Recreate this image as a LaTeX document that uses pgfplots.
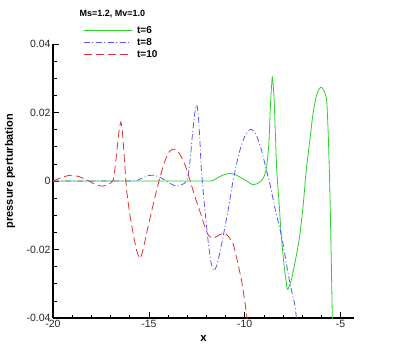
\documentclass[border=0pt]{standalone}
\usepackage{fontspec}
\setmainfont{Liberation Sans}
\usepackage{pgfplots}
\pgfplotsset{compat=1.18}
\pgfplotsset{legend image code/.code={\draw[#1] (0pt,0pt) -- (48pt,0pt);}}

\definecolor{cgreen}{RGB}{40,210,40}
\definecolor{cblue}{RGB}{85,85,255}
\definecolor{cred}{RGB}{220,50,50}

\begin{document}
\begin{tikzpicture}
\useasboundingbox (-53pt,-40pt) rectangle (350pt,318pt);
\begin{axis}[
    at={(0,0)}, anchor=south west,
    scale only axis,
    width=301pt, height=274pt,
    xmin=-20, xmax=-4.3,
    ymin=-0.04, ymax=0.04,
    axis x line=bottom, axis y line=left,
    axis line style={-, line width=1.1pt},
    tick align=inside,
    major tick length=6pt, minor tick length=3.5pt,
    every tick/.style={black, line width=0.7pt},
    xtick={-20,-15,-10,-5},
    xticklabels={-20,-15,-10,-5},
    minor x tick num=4,
    ytick={-0.04,-0.02,0,0.02,0.04},
    yticklabels={-0.04,-0.02,0,0.02,0.04},
    minor y tick num=3,
    scaled y ticks=false,
    tick label style={font=\fontsize{10.5}{12}\selectfont, text=black!85},
    xticklabel style={yshift=1pt},
    yticklabel style={xshift=1pt},
    xlabel={\bfseries x},
    ylabel={\bfseries pressure perturbation},
    xlabel style={at={(rel axis cs:0.5,-0.073)}, anchor=center, font=\fontsize{11.5}{13}\selectfont},
    ylabel style={at={(rel axis cs:-0.143,0.536)}, anchor=center, font=\fontsize{11}{13}\selectfont},
    clip mode=individual,
    legend style={at={(rel axis cs:0.09,1.079)}, anchor=north west, draw=none, fill=none,
        font=\bfseries\fontsize{10}{12}\selectfont, row sep=-0.5pt, column sep=3pt},
    legend cell align=left,
]
\addplot[cgreen, line width=0.8pt, smooth, tension=0.4] coordinates {
    (-20,0) (-16,0) (-12,0) (-11.75,0) (-11.6,0.0003) (-11.4,0.0010) (-11.1,0.0018)
    (-10.8,0.0022) (-10.5,0.0019) (-10.2,0.0010) (-9.9,0.0000) (-9.6,-0.0010)
    (-9.35,-0.0008) (-9.15,0.0000) (-9.0,0.0012) (-8.88,0.0035) (-8.8,0.0070)
    (-8.73,0.0120) (-8.66,0.0220) (-8.56,0.0303) (-8.47,0.0240) (-8.39,0.0120)
    (-8.33,0.0032) (-8.2,-0.0070) (-8.09,-0.0163) (-7.92,-0.0260) (-7.8,-0.0309)
    (-7.75,-0.0316) (-7.57,-0.0289) (-7.35,-0.0230) (-7.14,-0.0163) (-6.95,-0.0070)
    (-6.79,0.0032) (-6.6,0.0120) (-6.46,0.0187) (-6.3,0.0240) (-6.15,0.0266)
    (-6.01,0.0274) (-5.87,0.0264) (-5.73,0.0237) (-5.66,0.0160) (-5.6,0.0060)
    (-5.55,-0.0050) (-5.49,-0.0220) (-5.43,-0.0400) (-5.4,-0.0480)
};
\addlegendentry{t=6}
\addplot[cblue, line width=0.8pt, smooth, tension=0.4,
    dash pattern=on 6pt off 2.5pt on 1pt off 2.5pt] coordinates {
    (-20,0) (-16,0) (-15.6,0.0002) (-15.3,0.0010) (-15.0,0.0016) (-14.8,0.0017)
    (-14.5,0.0013) (-14.2,0.0004) (-13.9,-0.0007) (-13.55,-0.0015) (-13.25,-0.0010)
    (-13.0,0.0003) (-12.85,0.0060) (-12.72,0.0140) (-12.6,0.0200) (-12.5,0.0222)
    (-12.42,0.0190) (-12.34,0.0120) (-12.26,0.0032) (-12.1,-0.0070) (-11.9,-0.0180)
    (-11.75,-0.0240) (-11.6,-0.0262) (-11.45,-0.0245) (-11.3,-0.0210) (-11.13,-0.0163)
    (-10.85,-0.0080) (-10.6,0.0003) (-10.3,0.0080) (-10.0,0.0130) (-9.7,0.0151)
    (-9.4,0.0135) (-9.1,0.0085) (-8.87,0.0032) (-8.7,-0.0005) (-8.4,-0.0085)
    (-8.07,-0.0163) (-7.8,-0.0250) (-7.6,-0.0310) (-7.4,-0.0358) (-7.31,-0.0396)
    (-7.25,-0.0430)
};
\addlegendentry{t=8}
\addplot[cred, line width=0.8pt, smooth, tension=0.4,
    dash pattern=on 8pt off 4pt] coordinates {
    (-20,0) (-19.7,0.0007) (-19.35,0.0014) (-19.0,0.0017) (-18.6,0.0012) (-18.2,0.0002)
    (-17.8,-0.0010) (-17.4,-0.0015) (-17.1,-0.0009) (-16.86,0.0003) (-16.72,0.0060)
    (-16.58,0.0135) (-16.46,0.0172) (-16.36,0.0130) (-16.26,0.0050) (-16.16,-0.0026)
    (-16.0,-0.0095) (-15.82,-0.0153) (-15.65,-0.0200) (-15.47,-0.0226) (-15.3,-0.0200)
    (-15.12,-0.0153) (-14.8,-0.0075) (-14.46,0.0003) (-14.15,0.0060) (-13.9,0.0088)
    (-13.65,0.0093) (-13.4,0.0080) (-13.1,0.0045) (-12.86,0.0003) (-12.6,-0.0045)
    (-12.34,-0.0088) (-12.1,-0.0130) (-11.9,-0.0158) (-11.65,-0.0167) (-11.4,-0.0160)
    (-11.1,-0.0152) (-10.85,-0.0162) (-10.6,-0.0185) (-10.4,-0.0230) (-10.17,-0.0289)
    (-10.0,-0.0350) (-9.88,-0.0400) (-9.8,-0.0450)
};
\addlegendentry{t=10}
\node[anchor=west, inner sep=0pt, font=\bfseries\fontsize{9}{11}\selectfont]
    at (rel axis cs:0.088,1.11) {Ms=1.2, Mv=1.0};
\end{axis}
\end{tikzpicture}
\end{document}
